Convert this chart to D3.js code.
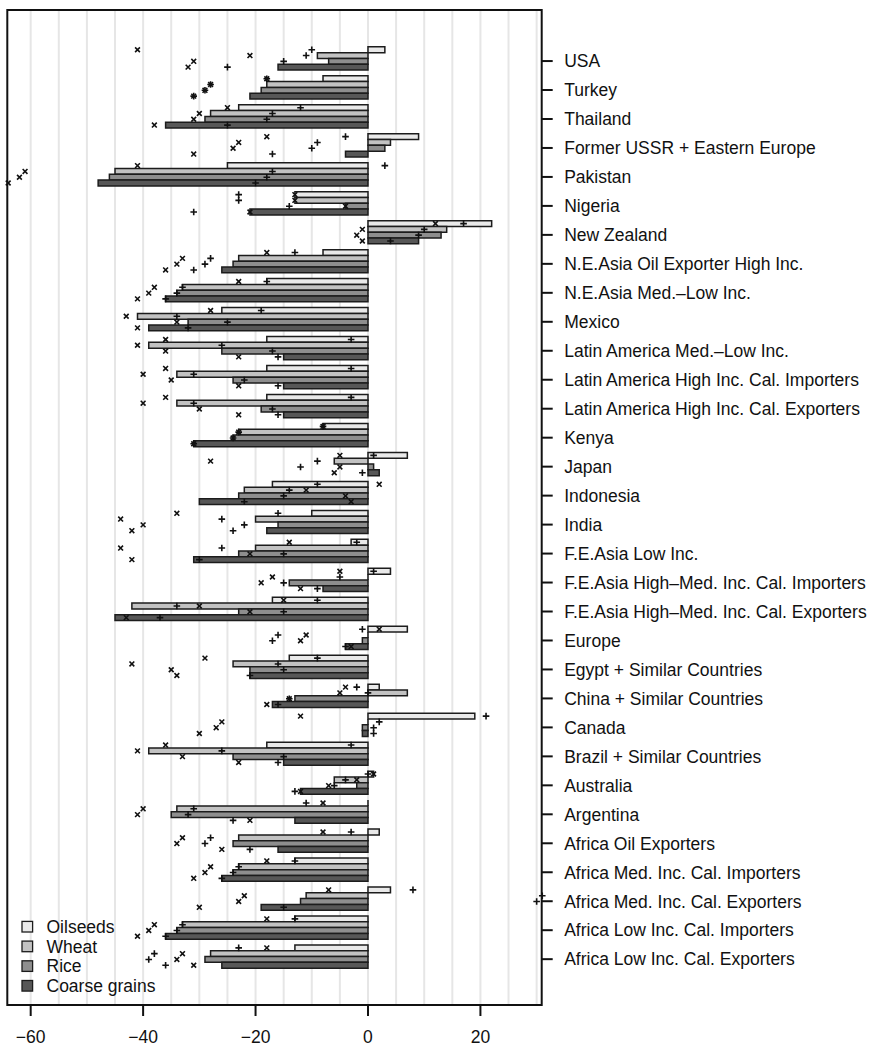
<!DOCTYPE html>
<html>
<head>
<meta charset="utf-8">
<script src="https://cdn.jsdelivr.net/npm/d3@7"></script>
<style>
  html, body { margin: 0; padding: 0; background: #fff; }
  svg { display: block; font-family: "Liberation Sans", Arial, Helvetica, sans-serif; }
</style>
</head>
<body>
<svg id="chart" width="872" height="1046"></svg>
<script>
// Regions, top to bottom
const categories = [
  "USA", "Turkey", "Thailand", "Former USSR + Eastern Europe", "Pakistan", "Nigeria",
  "New Zealand", "N.E.Asia Oil Exporter High Inc.", "N.E.Asia Med.\u2013Low Inc.", "Mexico",
  "Latin America Med.\u2013Low Inc.", "Latin America High Inc. Cal. Importers",
  "Latin America High Inc. Cal. Exporters", "Kenya", "Japan", "Indonesia", "India",
  "F.E.Asia Low Inc.", "F.E.Asia High\u2013Med. Inc. Cal. Importers",
  "F.E.Asia High\u2013Med. Inc. Cal. Exporters", "Europe", "Egypt + Similar Countries",
  "China + Similar Countries", "Canada", "Brazil + Similar Countries", "Australia",
  "Argentina", "Africa Oil Exporters", "Africa Med. Inc. Cal. Importers",
  "Africa Med. Inc. Cal. Exporters", "Africa Low Inc. Cal. Importers",
  "Africa Low Inc. Cal. Exporters"
];

const seriesNames = ["Oilseeds", "Wheat", "Rice", "Coarse grains"];

// Bar values (percent change) per crop
const oilseeds = [3, -8, -23, 9, -25, -13, 22, -8, -18, -26, -18, -18, -18, -8, 7, -17, -10, -3, 4, -17, 7, -14, 2, 19, -18, 1, 0, 2, -13, 4, -13, -13];
const wheat    = [-9, -18, -28, 4, -45, -13, 14, -23, -33, -41, -39, -34, -34, -23, -6, -22, -20, -20, 0, -42, 0, -24, 7, 0, -39, -6, -34, -23, -23, -11, -33, -28];
const rice     = [-7, -19, -29, 3, -46, -4, 13, -24, -34, -32, -26, -24, -19, -24, 1, -23, -16, -23, -14, -23, -1, -21, -13, -1, -24, -2, -35, -24, -24, -12, -34, -29];
const coarse   = [-16, -21, -36, -4, -48, -21, 9, -26, -36, -39, -15, -15, -15, -31, 2, -30, -18, -31, -8, -45, -4, -21, -17, -1, -15, -12, -13, -16, -26, -19, -36, -26];

// Alternative results, "+" markers
const plusOilseeds = [-10, -18, -12, -4, 3, -23, 17, -13, -18, -19, -3, -3, -3, -8, 1, -9, -16, -2, 1, -9, -1, -9, -2, 21, -3, 0, -11, -3, -13, 8, -13, -23];
const plusWheat    = [-11, -28, -17, -9, -17, -23, 10, -28, -33, -34, -26, -31, -31, -23, -9, -14, -26, -26, -5, -34, -16, -16, 0, 2, -26, -4, -31, -28, -23, 31, -33, -38];
const plusRice     = [-15, -29, -18, -10, -18, -14, 9, -29, -34, -25, -17, -22, -17, -24, -12, -15, -22, -15, -15, -15, -17, -15, -14, 1, -15, -6, -32, -29, -24, 30, -34, -39];
const plusCoarse   = [-25, -31, -25, -17, -20, -31, 4, -31, -36, -32, -16, -16, -16, -31, -1, -22, -24, -30, -9, -37, -4, -21, -16, 1, -16, -13, -24, -21, -26, -15, -36, -36];

// Alternative results, "x" markers
const crossOilseeds = [-41, -18, -25, -18, -41, -13, 12, -18, -23, -28, -36, -36, -36, -8, -5, 2, -34, -14, -5, -15, 2, -29, -4, -12, -36, 1, -8, -8, -18, -7, -18, -18];
const crossWheat    = [-21, -28, -30, -23, -61, -13, -1, -33, -38, -43, -41, -40, -40, -23, -28, -11, -44, -44, -17, -30, -11, -42, -5, -26, -41, -2, -40, -33, -28, -22, -38, -33];
const crossRice     = [-31, -29, -31, -24, -62, -4, -2, -34, -39, -34, -36, -35, -30, -24, -5, -4, -40, -21, -19, -21, -12, -35, -14, -27, -33, -7, -41, -34, -29, -23, -39, -34];
const crossCoarse   = [-32, -31, -38, -31, -64, -21, -1, -36, -41, -41, -23, -23, -23, -31, -6, -3, -42, -42, -12, -43, -3, -34, -18, -30, -23, -12, -21, -26, -31, -30, -41, -31];

const xTicks = [-60, -40, -20, 0, 20];
const gridValues = d3.range(-60, 31, 5);

const fills = ["#e9e9e9", "#c2c2c2", "#8e8e8e", "#575757"];

const barSeries = [oilseeds, wheat, rice, coarse];
const plusSeries = [plusOilseeds, plusWheat, plusRice, plusCoarse];
const crossSeries = [crossOilseeds, crossWheat, crossRice, crossCoarse];

// Layout
const box = { left: 7.3, right: 541.7, top: 10, bottom: 1005 };
const nGroups = categories.length;
const slots = nGroups * 5 - 1;          // 4 bars + 1 gap per group
const pad = slots * 0.04;

const x = d3.scaleLinear().domain([-64.16, 30.9]).range([box.left, box.right]);
const y = d3.scaleLinear().domain([-pad, slots + pad]).range([box.top, box.bottom]);

const svg = d3.select("#chart");
svg.append("rect").attr("width", 872).attr("height", 1046).attr("fill", "#fff");

// vertical grid
svg.append("g").selectAll("line").data(gridValues).join("line")
  .attr("x1", d => x(d)).attr("x2", d => x(d))
  .attr("y1", box.top).attr("y2", box.bottom)
  .attr("stroke", "#e6e6e6").attr("stroke-width", 2);

// bar records
const bars = [];
const marks = [];
categories.forEach((c, i) => {
  for (let j = 0; j < 4; j++) {
    bars.push({ i, j, v: barSeries[j][i] });
    marks.push({ i, j, v: plusSeries[j][i], type: "plus" });
    marks.push({ i, j, v: crossSeries[j][i], type: "cross" });
  }
});

svg.append("g").selectAll("path").data(bars).join("path")
  .attr("d", d => {
    const x0 = x(0), x1 = x(d.v);
    const y0 = y(d.i * 5 + d.j), y1 = y(d.i * 5 + d.j + 1);
    return `M${x0},${y0}H${x1}V${y1}H${x0}Z`;
  })
  .attr("fill", d => fills[d.j])
  .attr("stroke", "#1c1c1c")
  .attr("stroke-width", 1.5);

// point markers
const plusPath = s => `M${-s},0H${s}M0,${-s}V${s}`;
const crossPath = s => `M${-s},${-s}L${s},${s}M${-s},${s}L${s},${-s}`;

svg.append("g").selectAll("path").data(marks).join("path")
  .attr("transform", d => `translate(${x(d.v)},${y(d.i * 5 + d.j + 0.5)})`)
  .attr("d", d => d.type === "plus" ? plusPath(3.3) : crossPath(2.4))
  .attr("fill", "none")
  .attr("stroke", "#111")
  .attr("stroke-width", 1.6);

// legend
const legend = svg.append("g");
const legendY = [926.7, 946.4, 966.1, 985.8];
seriesNames.forEach((name, k) => {
  legend.append("rect")
    .attr("x", 22).attr("y", legendY[k] - 5.3)
    .attr("width", 10.6).attr("height", 10.6)
    .attr("fill", fills[k]).attr("stroke", "#1c1c1c").attr("stroke-width", 1.3);
  legend.append("text")
    .attr("x", 46.5).attr("y", legendY[k]).attr("dy", "0.36em")
    .attr("font-size", 17.5).attr("fill", "#111")
    .text(name);
});

// frame
svg.append("rect")
  .attr("x", box.left).attr("y", box.top)
  .attr("width", box.right - box.left).attr("height", box.bottom - box.top)
  .attr("fill", "none").attr("stroke", "#111").attr("stroke-width", 2);

// bottom axis
const bottom = svg.append("g").attr("transform", `translate(0,${box.bottom})`);
bottom.selectAll("line").data(xTicks).join("line")
  .attr("x1", d => x(d)).attr("x2", d => x(d))
  .attr("y1", 0).attr("y2", 11)
  .attr("stroke", "#111").attr("stroke-width", 2);
bottom.selectAll("text").data(xTicks).join("text")
  .attr("x", d => x(d)).attr("y", 38)
  .attr("text-anchor", "middle")
  .attr("font-size", 17.5).attr("fill", "#111")
  .text(d => d < 0 ? "\u2212" + Math.abs(d) : String(d));

// right axis with region names
const right = svg.append("g").attr("transform", `translate(${box.right},0)`);
right.selectAll("line").data(categories).join("line")
  .attr("x1", 0).attr("x2", 11)
  .attr("y1", (d, i) => y(i * 5 + 2.45)).attr("y2", (d, i) => y(i * 5 + 2.45))
  .attr("stroke", "#111").attr("stroke-width", 2);
right.selectAll("text").data(categories).join("text")
  .attr("x", 22.5).attr("y", (d, i) => y(i * 5 + 2.45)).attr("dy", "0.36em")
  .attr("font-size", 17.5).attr("fill", "#111")
  .text(d => d);
</script>
</body>
</html>
